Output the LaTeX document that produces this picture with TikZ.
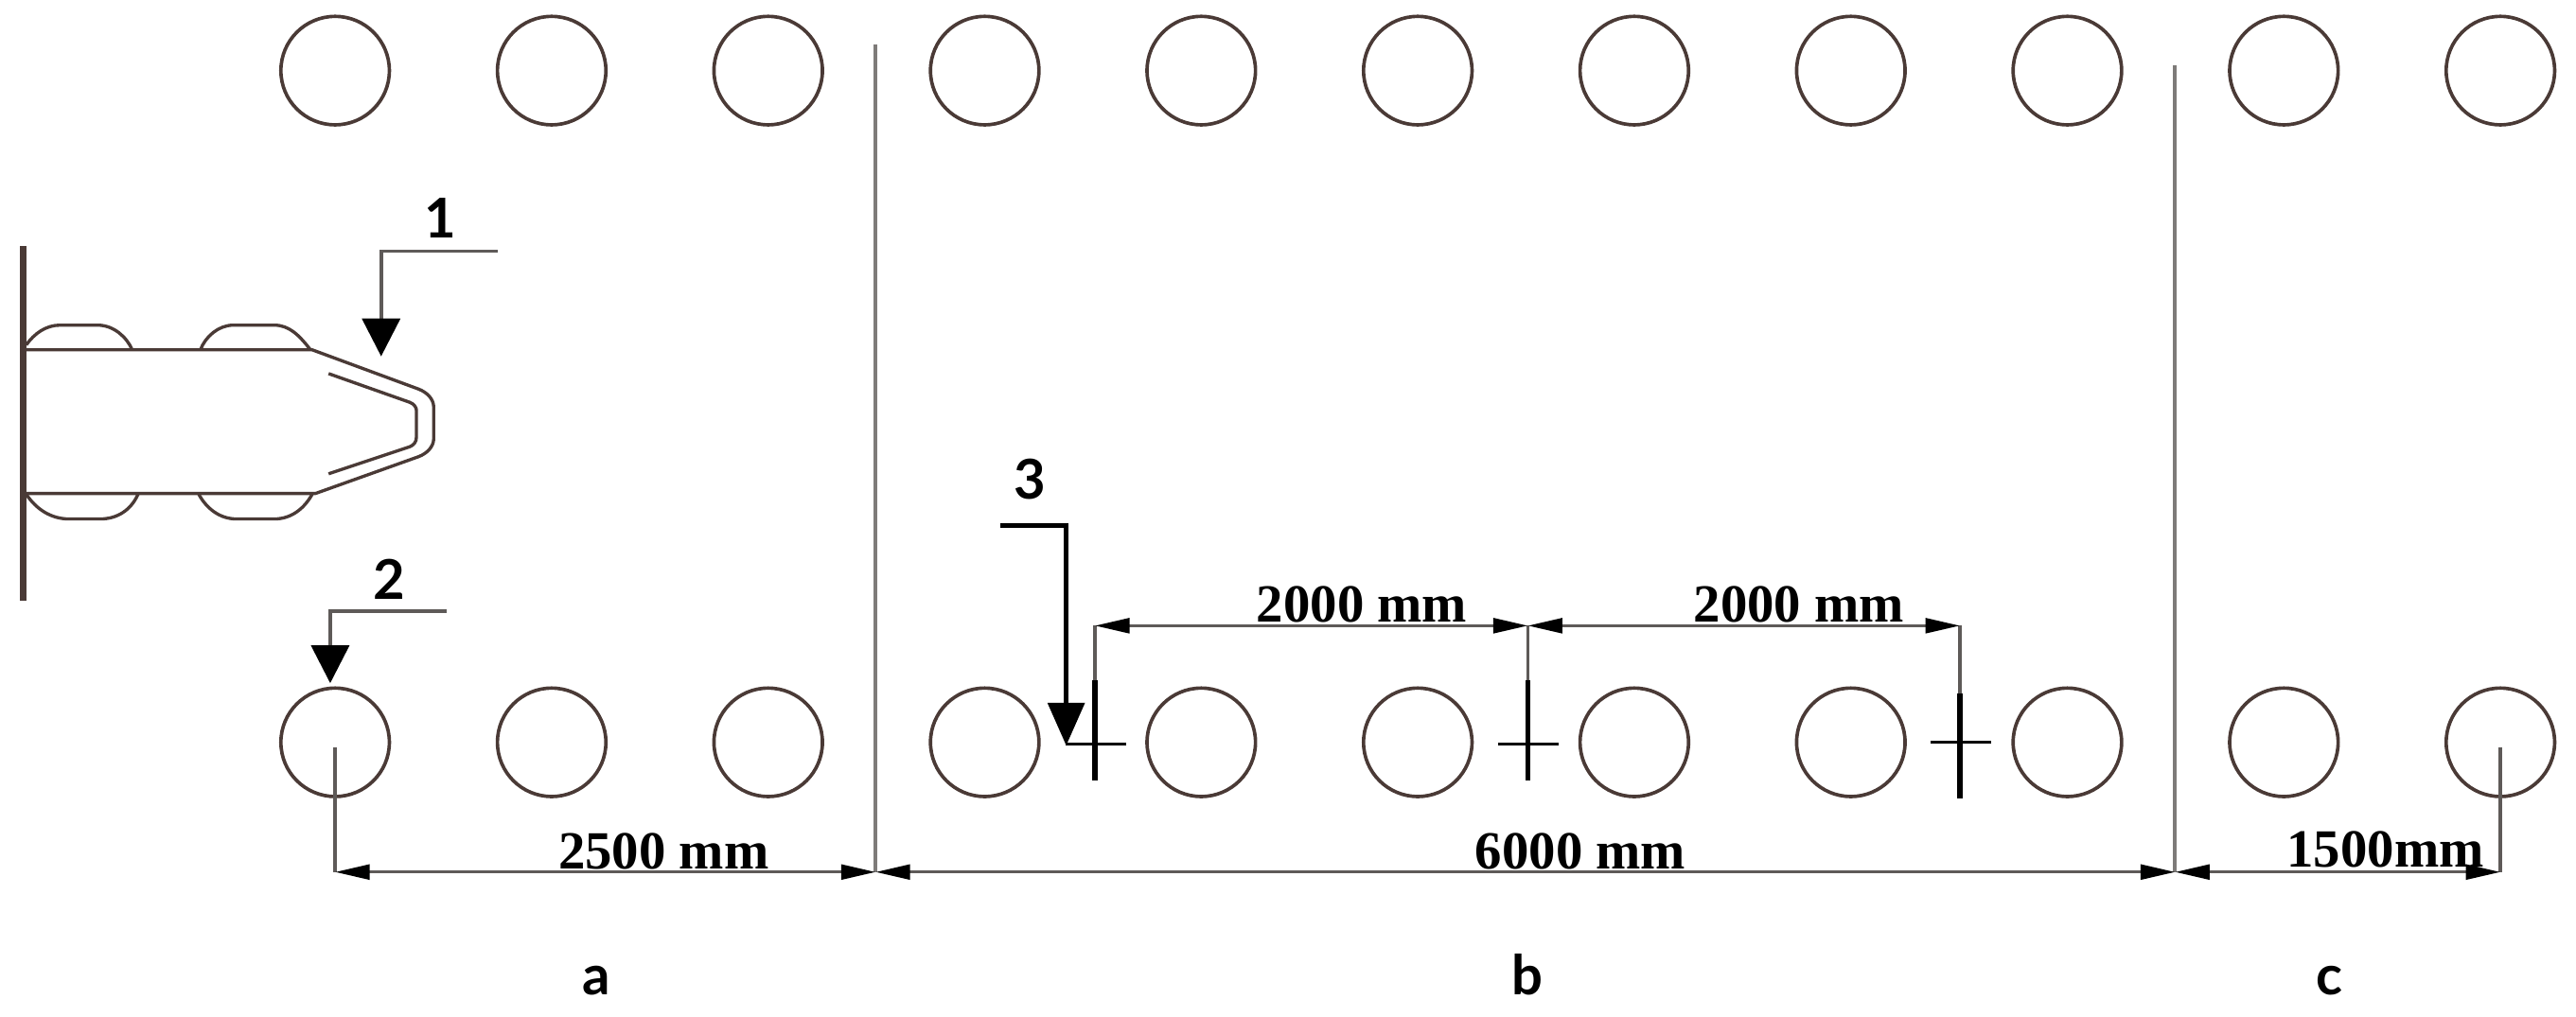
\documentclass[tikz,border=0pt]{standalone}
\usepackage{fontspec}
\setmainfont{Liberation Serif}
\newfontfamily\markfont{Lato}
\usetikzlibrary{arrows.meta}
\definecolor{linebrown}{HTML}{4A3A36}
\definecolor{dimgrey}{HTML}{5E5A58}
\tikzset{
  post/.style={circle, draw=linebrown, line width=0.6pt, minimum size=0.66cm, inner sep=0pt},
  dimtext/.style={font=\fontsize{9.3}{10}\selectfont\bfseries, inner sep=0pt, anchor=base},
  marktext/.style={font=\fontsize{9.5}{11}\selectfont\markfont\bfseries, inner sep=0pt, anchor=base},
  dimline/.style={draw=dimgrey, line width=0.55pt},
  dimarrow/.style={dimline, {Triangle[length=2.1mm,width=0.9mm,black]}-{Triangle[length=2.1mm,width=0.9mm,black]}},
  leader/.style={draw=dimgrey, line width=0.6pt, -{Triangle[length=2.3mm,width=2.3mm,black]}},
  carline/.style={draw=linebrown, line width=0.55pt, line join=round}
}
\begin{document}
\begin{tikzpicture}[x=0.01cm, y=-0.01cm]
  \useasboundingbox (0,0) rectangle (1568,619);
  % rows of posts
  \foreach \i in {1, ..., 11} {
    \node[post] (t\i) at ({204+131.8*(\i-1)},43) {};
    \node[post] (b\i) at ({204+131.8*(\i-1)},452) {};
  }
  % section borders
  \coordinate (sa) at (533,531);
  \coordinate (sb) at (1324,531);
  \draw[dimline, draw=dimgrey!80, line width=0.65pt] (533,27) -- (sa);
  \draw[dimline, draw=dimgrey!80, line width=0.65pt] (1324,40) -- (sb);
  \coordinate (da) at (204,531);
  \coordinate (dc) at (1522,531);
  \draw[dimline] ([yshift=-0.03cm]b1.center) -- (da);
  \draw[dimline] ([yshift=-0.03cm]b11.center) -- (dc);
  \draw[dimarrow] (da) -- (sa);
  \draw[dimarrow] (sa) -- (sb);
  \draw[dimarrow] (sb) -- (dc);
  \node[dimtext] (la) at (404,529) {2500 mm};
  \node[dimtext] (lb) at (962,529) {6000 mm};
  \node[dimtext] (lc) at (1452,528) {1500mm};
  % markers with their spacing
  \foreach \n/\x/\t/\u/\c in {m1/666.5/414/475/453, m2/930/414/475/453, m3/1193/422/486/452} {
    \coordinate (\n) at (\x,381);
    \draw[line width=0.95pt, black] (\x,\t) -- (\x,\u);
    \draw[line width=0.5pt, black] (\x-18,\c) -- (\x+19,\c);
    \draw[dimline] (\n) -- (\x,\t);
  }
  \draw[dimarrow] (m1) -- (m2);
  \draw[dimarrow] (m2) -- (m3);
  \node[dimtext] (l1) at (829,379) {2000 mm};
  \node[dimtext] (l2) at (1095,379) {2000 mm};
  % reference arrows
  \coordinate (r1a) at (303,153);
  \coordinate (r1b) at (232,217);
  \coordinate (r2a) at (272,372);
  \coordinate (r2b) at (201,416);
  \coordinate (r3a) at (609,320);
  \coordinate (r3b) at (649,454);
  \draw[leader] (r1a) -| (r1b);
  \draw[leader] (r2a) -| (r2b);
  \draw[leader, draw=black, line width=0.9pt, -{Triangle[length=2.6mm,width=2.2mm,black]}] (r3a) -| (r3b);
  \node[marktext] (n1) at (268,145) {1};
  \node[marktext] (n2) at (237,365) {2};
  \node[marktext] (n3) at (627,304) {3};
  % tractor
  \draw[draw=linebrown, line width=1.05pt] (14,150) -- (14,366);
  \draw[carline] (14,213) -- (190,213) -- (255,237) .. controls (260,239) and (264,243) .. (264,248)
    -- (264,267) .. controls (264,272) and (260,276) .. (255,278) -- (192,300.5) -- (14,300.5);
  \draw[carline] (200,227.5) -- (249.5,245) .. controls (252,246) and (253.5,248) .. (253.5,250)
    -- (253.5,266) .. controls (253.5,269) and (252,271) .. (249.5,272) -- (200,288.5);
  \draw[carline] (16,210) .. controls (21,203) and (28,198) .. (36.5,198) -- (59.5,198) .. controls (69,198) and (77,205) .. (80.5,213);
  \draw[carline] (122,213) .. controls (125,205) and (133,198) .. (142,198) -- (167,198) .. controls (176,198) and (182,204) .. (189,213);
  \draw[carline] (16,301) .. controls (22,310) and (31,316) .. (42,316) -- (61,316) .. controls (72,316) and (80,310) .. (84,301);
  \draw[carline] (121,301) .. controls (126,310) and (134,316) .. (144,316) -- (167,316) .. controls (177,316) and (185,310) .. (190,301);
  % sections
  \node[marktext] (sa1) at (363,606) {a};
  \node[marktext] (sb1) at (930,606) {b};
  \node[marktext] (sc1) at (1418,606) {c};
\end{tikzpicture}
\end{document}
